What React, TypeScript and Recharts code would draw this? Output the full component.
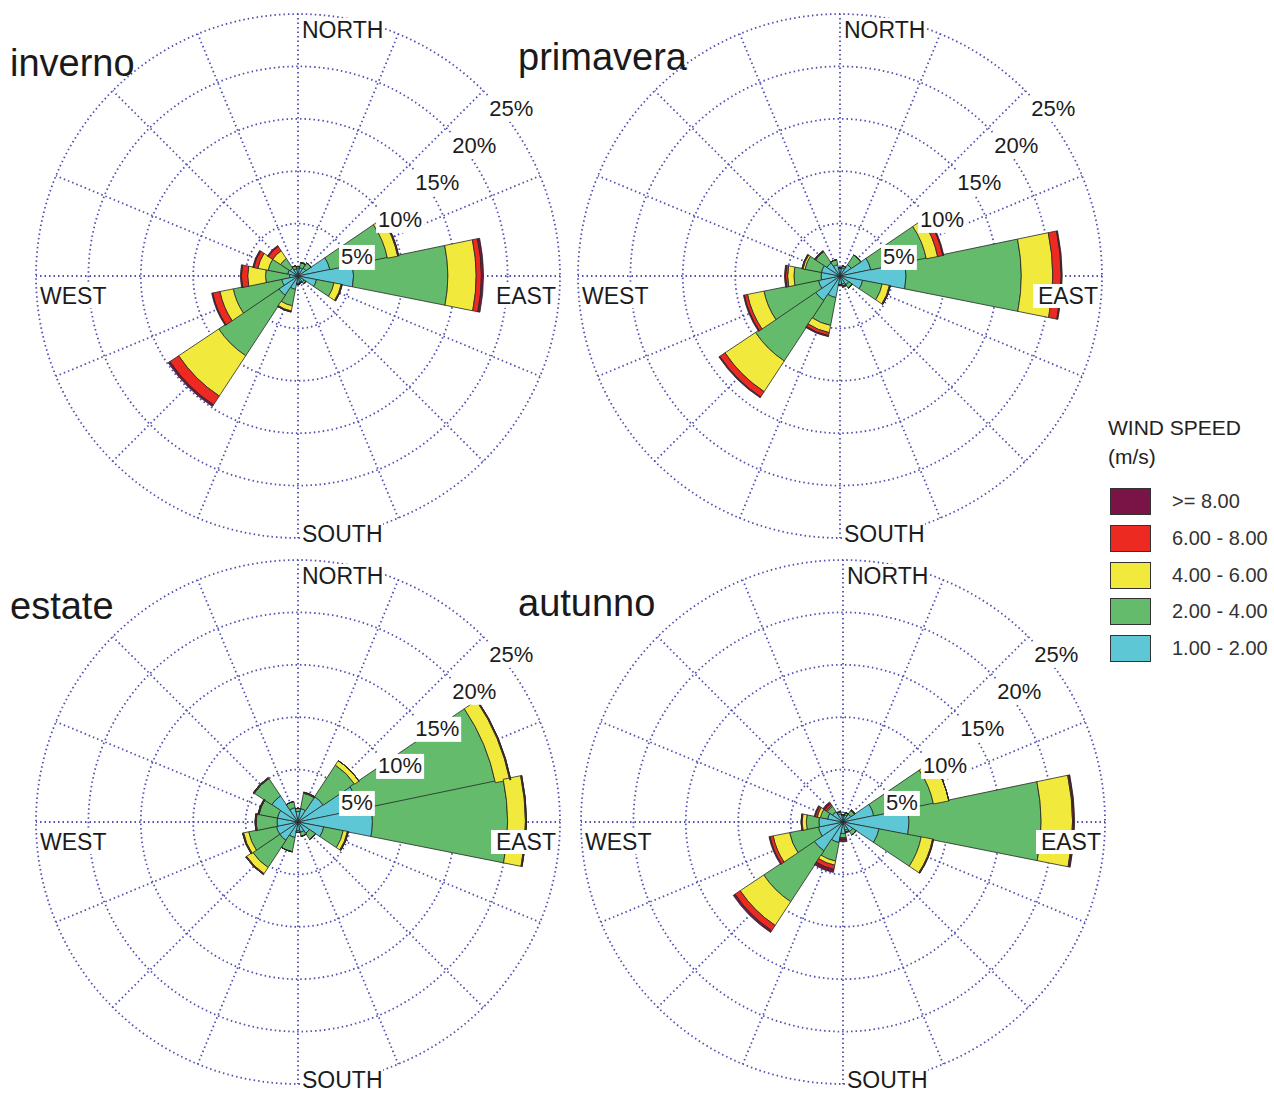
import React from 'react';
import { RadialBarChart, RadialBar, PolarGrid, PolarAngleAxis, PolarRadiusAxis, Customized } from 'recharts';

const directions = ['N', 'NNE', 'NE', 'ENE', 'E', 'ESE', 'SE', 'SSE', 'S', 'SSW', 'SW', 'WSW', 'W', 'WNW', 'NW', 'NNW'];
const cardinalNames: Record<string, string> = { N: 'NORTH', E: 'EAST', S: 'SOUTH', W: 'WEST' };
const percentTicks = [0, 5, 10, 15, 20, 25];

const speedKeys = ['v12', 'v24', 'v46', 'v68', 'v8'];
const speedColors = ['#5ec7d6', '#63bb6b', '#f1ea3c', '#ec2a22', '#7a1446'];
const legendLabels = ['>= 8.00', '6.00 - 8.00', '4.00 - 6.00', '2.00 - 4.00', '1.00 - 2.00'];
const legendColors = ['#7a1446', '#ec2a22', '#f1ea3c', '#63bb6b', '#5ec7d6'];

// inverno (% of hours per direction and speed class)
const inverno_1_2 = [0.7, 0.8, 0.9, 3.1, 5.3, 1.8, 0.7, 0.6, 0.7, 1.3, 2.2, 1.6, 0.8, 1.0, 0.9, 0.7];
const inverno_2_4 = [0.2, 0.5, 0.6, 5.6, 9.0, 1.7, 0.2, 0.1, 0.1, 1.6, 6.9, 4.7, 2.3, 1.9, 1.1, 0.3];
const inverno_4_6 = [0, 0, 0, 1.0, 2.7, 0.7, 0, 0, 0, 0.5, 4.6, 1.3, 1.7, 1.0, 0.9, 0];
const inverno_6_8 = [0, 0, 0, 0.1, 0.5, 0.1, 0, 0, 0, 0.1, 1.0, 0.7, 0.6, 0.4, 0.5, 0];
const inverno_8 = [0, 0, 0, 0, 0.2, 0, 0, 0, 0, 0, 0.2, 0.1, 0.1, 0.1, 0.1, 0];

// primavera
const primavera_1_2 = [0.7, 0.8, 1.3, 3.0, 6.3, 2.2, 1.0, 0.8, 0.8, 2.1, 2.8, 2.1, 1.8, 1.8, 1.5, 1.1];
const primavera_2_4 = [0.1, 0.2, 1.1, 5.4, 11.0, 1.9, 0.4, 0.2, 0.1, 2.7, 6.9, 5.3, 2.6, 1.6, 1.3, 0.5];
const primavera_4_6 = [0, 0, 0, 1.1, 3.0, 0.7, 0, 0, 0, 0.7, 3.5, 1.6, 0.6, 0.2, 0, 0];
const primavera_6_8 = [0, 0, 0, 0.5, 0.8, 0.1, 0, 0.1, 0, 0.3, 0.6, 0.3, 0.2, 0.1, 0.1, 0];
const primavera_8 = [0, 0, 0, 0.1, 0.1, 0, 0, 0, 0, 0.1, 0.1, 0.1, 0.1, 0, 0, 0];

// estate
const estate_1_2 = [1.0, 1.3, 2.9, 6.0, 7.1, 2.5, 1.3, 1.0, 0.8, 1.5, 2.1, 2.1, 2.0, 2.0, 3.0, 1.4];
const estate_2_4 = [0.3, 1.5, 3.6, 13.2, 12.9, 1.9, 0.7, 0.4, 0.2, 1.4, 3.1, 2.7, 2.0, 1.8, 2.0, 0.6];
const estate_4_6 = [0, 0, 0.5, 1.4, 1.7, 0.4, 0, 0, 0, 0, 0.7, 0.5, 0, 0, 0, 0];
const estate_6_8 = [0, 0.1, 0, 0.1, 0.1, 0.1, 0, 0, 0, 0, 0.1, 0.1, 0.1, 0.1, 0.1, 0];
const estate_8 = [0, 0, 0, 0, 0, 0, 0, 0, 0, 0, 0, 0, 0, 0, 0, 0];

// autunno
const autunno_1_2 = [0.6, 0.7, 0.9, 3.0, 6.3, 3.5, 1.1, 0.8, 1.1, 2.0, 3.3, 2.4, 2.3, 1.5, 1.2, 0.8];
const autunno_2_4 = [0.1, 0.2, 0.4, 5.8, 12.6, 4.1, 0.4, 0.2, 0.4, 1.8, 5.8, 2.8, 1.2, 0.7, 0.6, 0.2];
const autunno_4_6 = [0, 0, 0.1, 1.5, 3.0, 1.1, 0, 0, 0.1, 0.4, 2.7, 1.6, 0.4, 0.3, 0.1, 0];
const autunno_6_8 = [0, 0, 0, 0, 0.1, 0.1, 0, 0, 0.1, 0.4, 0.6, 0.3, 0.1, 0.2, 0.2, 0];
const autunno_8 = [0, 0, 0, 0, 0.1, 0, 0, 0.1, 0.2, 0.3, 0.2, 0.1, 0, 0.1, 0.2, 0.1];

const buildRows = (cls: number[][]) =>
  directions.map((dir, i) => ({
    dir,
    v12: cls[0][i],
    v24: cls[1][i],
    v46: cls[2][i],
    v68: cls[3][i],
    v8: cls[4][i],
  }));

const seasons = [
  { title: 'inverno', rows: buildRows([inverno_1_2, inverno_2_4, inverno_4_6, inverno_6_8, inverno_8]), left: 18, top: -4, tx: 10, ty: 44 },
  { title: 'primavera', rows: buildRows([primavera_1_2, primavera_2_4, primavera_4_6, primavera_6_8, primavera_8]), left: 560, top: -4, tx: 518, ty: 38 },
  { title: 'estate', rows: buildRows([estate_1_2, estate_2_4, estate_4_6, estate_6_8, estate_8]), left: 18, top: 542, tx: 10, ty: 587 },
  { title: 'autunno', rows: buildRows([autunno_1_2, autunno_2_4, autunno_4_6, autunno_6_8, autunno_8]), left: 563, top: 542, tx: 518, ty: 584 },
];

const FONT = '"Liberation Sans", Arial, sans-serif';
const GRID = '#5050b4';
const CX = 280;
const CY = 280;
const R = 262;
const HALF = 180 / directions.length;
// spokes sit on the direction centres, compass order running clockwise from north
const spokeAngles = directions.map((_, i) => 90 - i * 2 * HALF);

const AngleTick = (props: any) => {
  const { payload } = props;
  const name = cardinalNames[payload.value];
  if (!name) return <g />;
  let tx = CX + 4;
  let ty = CY + 20;
  let anchor: 'start' | 'end' = 'start';
  if (payload.value === 'N') ty = CY - R + 16;
  if (payload.value === 'E') { tx = CX + R - 4; anchor = 'end'; }
  if (payload.value === 'W') tx = CX - R + 4;
  if (payload.value === 'S') ty = CY + R - 4;
  const w = name.length * 16;
  const rx = anchor === 'end' ? tx - w - 1 : tx - 1;
  return (
    <g>
      <rect x={rx} y={ty - 12} width={w + 2} height={24} fill="#fff" />
      <text x={tx} y={ty} textAnchor={anchor} dominantBaseline="central" fontSize={23} fontFamily={FONT} fill="#1c1c1c">
        {name}
      </text>
    </g>
  );
};

const RadiusTick = (props: any) => {
  const { x, y, payload } = props;
  if (!payload.value) return <g />;
  const label = `${payload.value}%`;
  const w = (0.556 * (label.length - 1) + 0.889) * 22;
  return (
    <g>
      <rect x={x + 4} y={y + 6} width={w + 4} height={25} fill="#fff" />
      <text x={x + 6} y={y + 18} textAnchor="start" dominantBaseline="central" fontSize={22} fontFamily={FONT} fill="#1c1c1c">
        {label}
      </text>
    </g>
  );
};

const Rose = ({ rows }: { rows: any[] }) => (
  <RadialBarChart
    width={560}
    height={560}
    data={rows}
    layout="centric"
    cx={CX}
    cy={CY}
    innerRadius={0}
    outerRadius={R}
    startAngle={90 - HALF}
    endAngle={90 - HALF - 360}
    barCategoryGap={0}
    margin={{ top: 0, right: 0, bottom: 0, left: 0 }}
  >
    <PolarGrid gridType="circle" polarAngles={spokeAngles} stroke={GRID} strokeWidth={1.8} strokeDasharray="1.5 3" />
    {speedKeys.map((k, i) => (
      <RadialBar key={k} dataKey={k} stackId="speed" fill={speedColors[i]} stroke="#262626" strokeWidth={0.8} isAnimationActive={false} />
    ))}
    <PolarAngleAxis dataKey="dir" type="category" axisLine={false} tickLine={false} tickSize={0} tick={AngleTick} />
    <PolarRadiusAxis type="number" domain={[0, 25]} ticks={percentTicks} angle={45} axisLine={false} tick={RadiusTick} />
    <Customized component={() => <circle cx={CX} cy={CY} r={6.5} fill="#fff" stroke="#222" strokeWidth={1} />} />
  </RadialBarChart>
);

export default function App() {
  return (
    <div style={{ position: 'absolute', left: 0, top: 0, width: 1274, height: 1097, overflow: 'hidden', background: '#fff', fontFamily: FONT }}>
      {seasons.map((s) => (
        <div key={s.title} style={{ position: 'absolute', left: s.left, top: s.top, width: 560, height: 560 }}>
          <Rose rows={s.rows} />
        </div>
      ))}
      {seasons.map((s) => (
        <div key={s.title + 't'} style={{ position: 'absolute', left: s.tx, top: s.ty, fontSize: 38, lineHeight: 1, color: '#1a1a1a' }}>
          {s.title}
        </div>
      ))}
      <div style={{ position: 'absolute', left: 1108, top: 413, fontSize: 21, lineHeight: '29px', color: '#222' }}>
        WIND SPEED
        <br />
        (m/s)
      </div>
      {legendLabels.map((lab, i) => (
        <div key={lab} style={{ position: 'absolute', left: 1110, top: 488 + i * 36.8, height: 27, display: 'flex', alignItems: 'center' }}>
          <div style={{ width: 39, height: 25, background: legendColors[i], border: '1px solid #333' }} />
          <span style={{ marginLeft: 21, fontSize: 20, color: '#333' }}>{lab}</span>
        </div>
      ))}
    </div>
  );
}
